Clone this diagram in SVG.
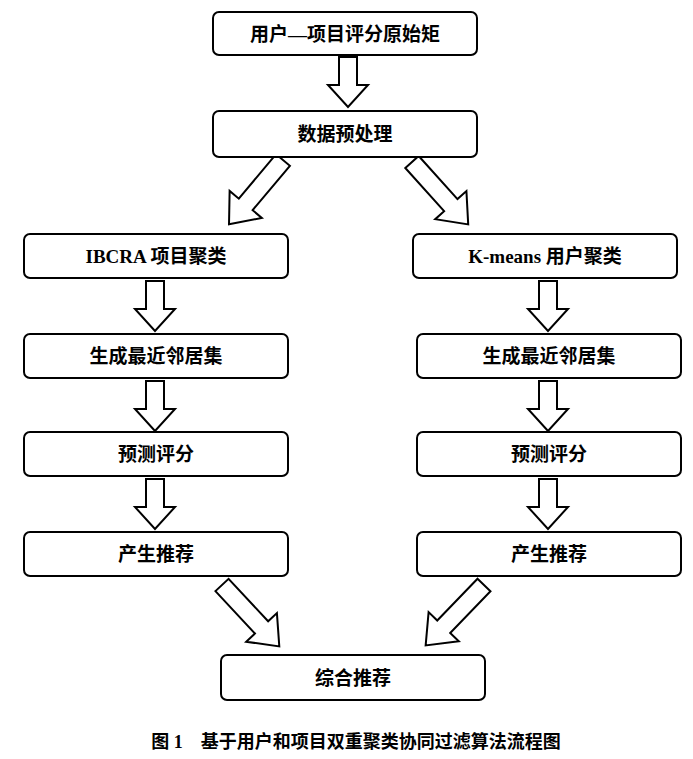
<svg xmlns="http://www.w3.org/2000/svg" width="693" height="759" viewBox="0 0 693 759">
<style>
.b{fill:#fff;stroke:#000;stroke-width:2}
.a{fill:#fff;stroke:#000;stroke-width:2;stroke-linejoin:miter}
text{font-family:"Liberation Serif","Noto Sans CJK SC",serif;font-weight:bold;font-size:19px;text-anchor:middle;dominant-baseline:central;fill:#000}
</style>
<defs>
<polygon id="s" class="a" points="-9,0 9,0 9,28 20,28 0,50 -20,28 -9,28"/>
<polygon id="l" class="a" points="-9,0 9,0 9,58 21,58 0,84 -21,58 -9,58"/>
</defs>
<rect width="693" height="759" fill="#fff"/>
<g id="connectors">
<use href="#s" x="348" y="57"/>
<use href="#l" transform="translate(283,160) rotate(40)"/>
<use href="#l" transform="translate(412,162) rotate(-42)"/>
<use href="#s" x="155" y="281"/>
<use href="#s" x="548" y="281"/>
<use href="#s" x="155" y="381"/>
<use href="#s" x="548" y="381"/>
<use href="#s" x="155" y="479"/>
<use href="#s" x="548" y="479"/>
<use href="#l" transform="translate(222,585) rotate(-43)"/>
<use href="#l" transform="translate(484,585) rotate(44)"/>
</g>
<g id="n1"><rect class="b" x="213" y="12" width="264" height="43" rx="6"/><text x="345" y="34">用户—项目评分原始矩</text></g>
<g id="n2"><rect class="b" x="213" y="111" width="264" height="46" rx="6"/><text x="345" y="134">数据预处理</text></g>
<g id="n3"><rect class="b" x="24" y="234" width="264" height="44" rx="6"/><text x="156" y="256">IBCRA 项目聚类</text></g>
<g id="n4"><rect class="b" x="413" y="234" width="264" height="44" rx="6"/><text x="545" y="256">K-means 用户聚类</text></g>
<g id="n5"><rect class="b" x="24" y="334" width="264" height="44" rx="6"/><text x="156" y="356">生成最近邻居集</text></g>
<g id="n6"><rect class="b" x="417" y="334" width="264" height="44" rx="6"/><text x="549" y="356">生成最近邻居集</text></g>
<g id="n7"><rect class="b" x="24" y="432" width="264" height="44" rx="6"/><text x="156" y="454">预测评分</text></g>
<g id="n8"><rect class="b" x="417" y="432" width="264" height="44" rx="6"/><text x="549" y="454">预测评分</text></g>
<g id="n9"><rect class="b" x="24" y="532" width="264" height="44" rx="6"/><text x="156" y="554">产生推荐</text></g>
<g id="n10"><rect class="b" x="417" y="532" width="264" height="44" rx="6"/><text x="549" y="554">产生推荐</text></g>
<g id="n11"><rect class="b" x="221" y="655" width="264" height="45" rx="6"/><text x="353" y="678">综合推荐</text></g>
<text x="356" y="742" style="font-size:18px">图 1　基于用户和项目双重聚类协同过滤算法流程图</text>
</svg>
